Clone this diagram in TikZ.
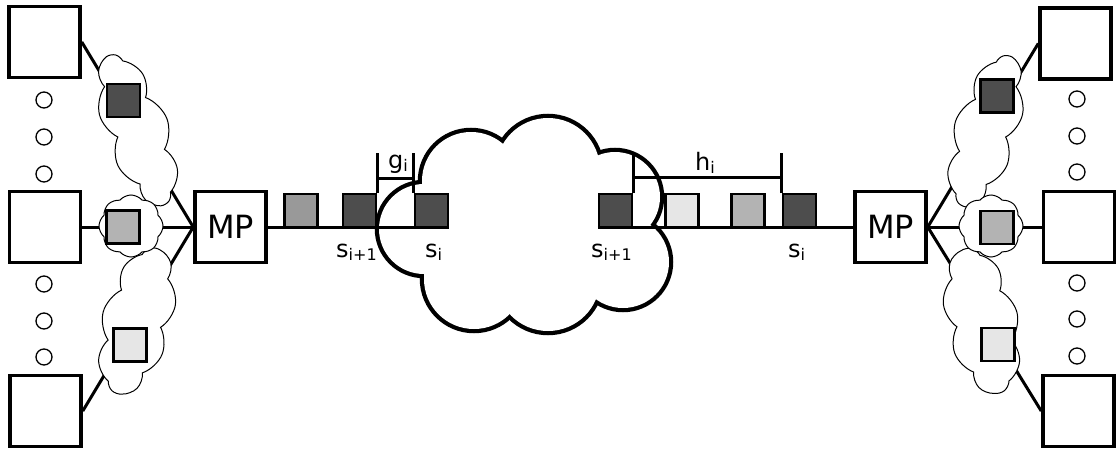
\documentclass[tikz,border=0pt]{standalone}
\usepackage{fontspec}
\setmainfont{DejaVu Sans}
\usetikzlibrary{shapes.symbols}
\definecolor{pkdark}{HTML}{4D4D4D}
\definecolor{pkmid}{HTML}{999999}
\definecolor{pkgrey}{HTML}{B3B3B3}
\definecolor{pklight}{HTML}{E6E6E6}
% letter with a lowered, smaller index
\newcommand\idx[2]{#1\lower3.5pt\hbox{\fontsize{16}{16}\selectfont #2}}

\begin{document}
\begin{tikzpicture}[x=1pt,y=-1pt,
  host/.style={draw, line width=3.5pt, minimum size=71pt, inner sep=0pt, fill=white},
  mpbox/.style={host, font=\fontsize{32}{32}\selectfont},
  packet/.style={draw, line width=2.5pt, minimum size=33pt, inner sep=0pt},
  ring/.style={draw, circle, line width=1.3pt, minimum size=16pt, inner sep=0pt},
  link/.style={line width=3pt},
  smallcloud/.style={cloud, draw, fill=white, line width=1pt, cloud ignores aspect,
    cloud puff arc=100, inner sep=0pt},
  lbltext/.style={font=\fontsize{24}{24}\selectfont, inner sep=0pt},
]
\useasboundingbox (0,0) rectangle (1117,450);

% central network cloud: union of lobes
\foreach \cx/\cy/\r in {424/229/45, 471/181/49, 548/170/52, 615/197/45, 623/262/46, 548/279/52, 474/279/50}
  \draw[line width=8.5pt] (\cx,\cy) circle[radius=\r];
\foreach \cx/\cy/\r in {424/229/45, 471/181/49, 548/170/52, 615/197/45, 623/262/46, 548/279/52, 474/279/50}
  \fill[white] (\cx,\cy) circle[radius=\r];
\fill[white] (540,225) ellipse[x radius=100, y radius=60];

% hosts and multiplexers
\node[host] (L1) at (44.5,42) {};
\node[host] (L2) at (45,227) {};
\node[host] (L3) at (45.5,411) {};
\node[mpbox] (MPL) at (230.5,227) {MP};
\node[mpbox] (MPR) at (890.5,227) {MP};
\node[host] (R1) at (1075.5,43.5) {};
\node[host] (R2) at (1079,227) {};
\node[host] (R3) at (1078.5,411) {};

% ellipsis rings between hosts
\foreach \y [count=\k] in {100,137,174,284,321,357}
  \node[ring] (dl\k) at (44,\y) {};
\foreach \y [count=\k] in {99,136,172,283,319,356}
  \node[ring] (dr\k) at (1077,\y) {};

% access links
\draw[link] (L1.east) -- (MPL.west);
\draw[link] (L2.east) -- (MPL.west);
\draw[link] (L3.east) -- (MPL.west);
\draw[link] (MPR.east) -- (R1.west);
\draw[link] (MPR.east) -- (R2.west);
\draw[link] (MPR.east) -- (R3.west);

% access clouds
\node[smallcloud, cloud puffs=9, minimum width=158, minimum height=64, rotate=-70] (cl1) at (137,130) {};
\node[smallcloud, cloud puffs=9, minimum width=150, minimum height=70, rotate=75] (cl3) at (137,321) {};
\node[smallcloud, cloud puffs=8, minimum width=64, minimum height=62] (cl2) at (131,226) {};
\node[smallcloud, cloud puffs=9, minimum width=156, minimum height=64, rotate=73] (cr1) at (986,131) {};
\node[smallcloud, cloud puffs=9, minimum width=148, minimum height=72, rotate=-77] (cr3) at (982,321) {};
\node[smallcloud, cloud puffs=8, minimum width=64, minimum height=62] (cr2) at (991,226) {};

% packets inside the access clouds
\node[packet, fill=pkdark] (al1) at (123.5,100.5) {};
\node[packet, fill=pkgrey] (al2) at (123,227) {};
\node[packet, fill=pklight] (al3) at (130,345) {};
\node[packet, fill=pkdark] (ar1) at (997,96) {};
\node[packet, fill=pkgrey] (ar2) at (997,227.5) {};
\node[packet, fill=pklight] (ar3) at (998,344.5) {};

% packets on the trunk
\node[packet, fill=pkmid] (p1) at (301,210.5) {};
\node[packet, fill=pkdark] (p2) at (359.5,210.5) {};
\node[packet, fill=pkdark] (p3) at (431.5,210.5) {};
\node[packet, fill=pkdark] (q1) at (615.5,210.5) {};
\node[packet, fill=pklight] (q2) at (682,210.5) {};
\node[packet, fill=pkgrey] (q3) at (748,210.5) {};
\node[packet, fill=pkdark] (q4) at (799.5,210.5) {};

% trunk line
\draw[link] (MPL.east) -- (MPL.east -| p3.east);
\draw[link] (MPR.west -| q1.west) -- (MPR.west);

% gap brackets
\coordinate (gtop) at (0,153);
\coordinate (gbar) at (0,178);
\coordinate (hbar) at (0,177);
\draw[link] (p2.north east) -- (p2.north east |- gtop);
\draw[link] (p3.north west) -- (p3.north west |- gtop);
\draw[link] (p2.north east |- gbar) -- (p3.north west |- gbar);
\draw[link] (q1.north east) -- (q1.north east |- gtop);
\draw[link] (q4.north west) -- (q4.north west |- gtop);
\draw[link] (q1.north east |- hbar) -- (q4.north west |- hbar);

% labels
\node[lbltext, anchor=base west] (g) at (388,168) {\idx{g}{i}};
\node[lbltext, anchor=base west] (h) at (695,170) {\idx{h}{i}};
\node[lbltext, anchor=base west] (s1) at (336,257) {\idx{s}{i+1}};
\node[lbltext, anchor=base west] (s2) at (425,257) {\idx{s}{i}};
\node[lbltext, anchor=base west] (s3) at (591,257) {\idx{s}{i+1}};
\node[lbltext, anchor=base west] (s4) at (788,257) {\idx{s}{i}};
\end{tikzpicture}
\end{document}
